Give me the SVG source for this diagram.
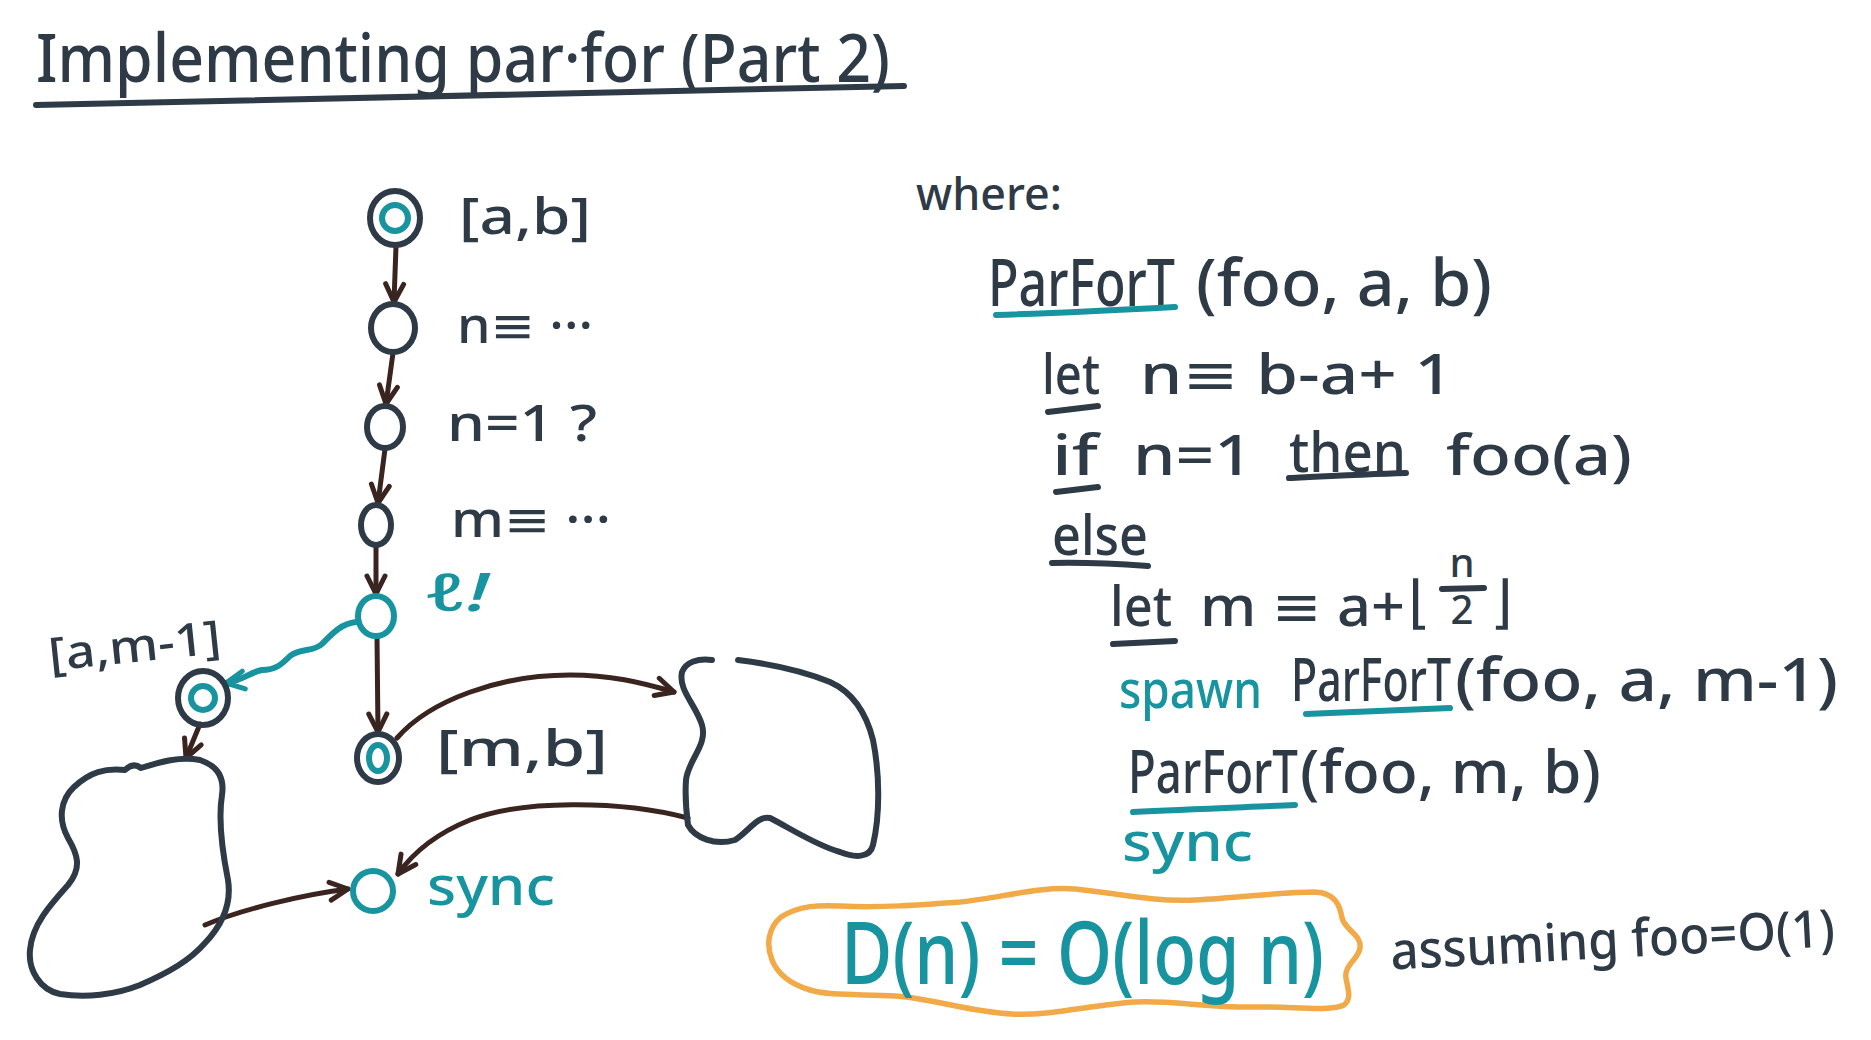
<svg xmlns="http://www.w3.org/2000/svg" width="1871" height="1040" viewBox="0 0 1871 1040">
<style>
text{font-family:"Noto Sans","Open Sans","DejaVu Sans",sans-serif;font-weight:500;}
.dk{fill:#2e3b47;}
.tl{fill:#17949f;}
.ln{fill:none;stroke-linecap:round;stroke-linejoin:round;}
.dks{stroke:#2e3b47;stroke-width:6;}
.tls{stroke:#17949f;stroke-width:6;}
.br{stroke:#3a2420;stroke-width:5;}
</style>
<defs>
<marker id="ah" viewBox="0 0 24 24" refX="21" refY="12" markerWidth="24" markerHeight="24" markerUnits="userSpaceOnUse" orient="auto">
<path d="M3,3 L21,12 L3,21" fill="none" stroke="#3a2420" stroke-width="5" stroke-linecap="round" stroke-linejoin="round"/>
</marker>
<marker id="aht" viewBox="0 0 24 24" refX="21" refY="12" markerWidth="24" markerHeight="24" markerUnits="userSpaceOnUse" orient="auto">
<path d="M3,3 L21,12 L3,21" fill="none" stroke="#17949f" stroke-width="5" stroke-linecap="round" stroke-linejoin="round"/>
</marker>
</defs>
<rect width="1871" height="1040" fill="#ffffff"/>

<g id="title">
<text class="dk" x="36" y="82" font-size="68" textLength="854" lengthAdjust="spacingAndGlyphs">Implementing par·for (Part 2)</text>
<path class="ln dks" d="M36,105 C300,100 600,92 904,86"/>
</g>

<g id="connectors">
<path class="ln br" d="M396,246 L394,302" marker-end="url(#ah)"/>
<path class="ln br" d="M393,353 L386,404" marker-end="url(#ah)"/>
<path class="ln br" d="M385,449 L378,503" marker-end="url(#ah)"/>
<path class="ln br" d="M376,546 L376,594" marker-end="url(#ah)"/>
<path class="ln br" d="M377,637 L378,732" marker-end="url(#ah)"/>
<path class="ln tls" d="M356,622 C340,624 332,634 322,644 C314,652 300,648 290,656 C282,664 276,670 262,670 C250,672 244,680 226,683" marker-end="url(#aht)"/>
<path class="ln br" d="M200,724 L186,758" marker-end="url(#ah)"/>
<path class="ln br" d="M397,738 C430,700 500,675 570,675 C610,675 640,682 674,692" marker-end="url(#ah)"/>
<path class="ln br" d="M688,818 C620,800 520,800 470,820 C440,832 415,850 398,874" marker-end="url(#ah)"/>
<path class="ln br" d="M205,925 C240,910 300,895 348,889" marker-end="url(#ah)"/>
</g>

<g id="node-ab">
<ellipse class="ln dks" cx="395" cy="218" rx="25" ry="27"/>
<circle class="ln tls" cx="395" cy="218" r="13"/>
<text class="dk" x="459" y="234" font-size="50" textLength="132" lengthAdjust="spacingAndGlyphs">[a,b]</text>
</g>
<g id="node-n">
<ellipse class="ln dks" cx="393" cy="328" rx="22" ry="24"/>
<text class="dk" x="457" y="343" font-size="50" textLength="136" lengthAdjust="spacingAndGlyphs">n≡ ···</text>
</g>
<g id="node-n1">
<ellipse class="ln dks" cx="385" cy="427" rx="18" ry="21"/>
<text class="dk" x="447" y="441" font-size="50" textLength="150" lengthAdjust="spacingAndGlyphs">n=1 ?</text>
</g>
<g id="node-m">
<ellipse class="ln dks" cx="376" cy="525" rx="15" ry="20"/>
<text class="dk" x="451" y="537" font-size="50" textLength="160" lengthAdjust="spacingAndGlyphs">m≡ ···</text>
</g>
<g id="node-spawn">
<ellipse class="ln tls" cx="376" cy="616" rx="18" ry="20"/>
<text class="tl" x="424" y="611" font-size="52" font-style="italic" textLength="65" lengthAdjust="spacingAndGlyphs">ℓ!</text>
</g>
<g id="node-am1">
<ellipse class="ln dks" cx="203" cy="698" rx="25" ry="27"/>
<circle class="ln tls" cx="203" cy="698" r="12"/>
<text class="dk" x="48" y="662" font-size="46" transform="rotate(-6 134 645)" textLength="173" lengthAdjust="spacingAndGlyphs">[a,m-1]</text>
</g>
<g id="node-mb">
<ellipse class="ln dks" cx="378" cy="758" rx="21" ry="24"/>
<ellipse class="ln tls" cx="378" cy="758" rx="9" ry="13"/>
<text class="dk" x="436" y="766" font-size="50" textLength="172" lengthAdjust="spacingAndGlyphs">[m,b]</text>
</g>
<g id="blob-left">
<path class="ln dks" d="M74,787 C90,772 105,768 125,770 Q133,762 141,768 C160,762 180,756 200,760 C215,765 225,775 222,795 C218,820 222,850 228,880 C232,905 222,925 205,943 C190,960 170,972 140,985 C115,995 85,998 60,994 C40,990 28,970 30,950 C32,925 50,905 68,885 C82,868 78,855 68,838 C58,820 60,800 74,787 Z"/>
</g>
<g id="blob-right">
<path class="ln dks" d="M738,660 C770,664 800,670 830,682 C852,692 866,712 873,740 C880,775 880,815 873,845 C870,858 855,858 840,852 C815,845 790,828 770,818 C758,815 748,832 735,840 C715,846 695,838 688,825 C686,810 685,795 686,780 C688,760 708,745 702,725 C696,705 678,690 682,672 C686,662 698,658 712,660"/>
</g>
<g id="node-sync">
<circle class="ln tls" cx="373" cy="891" r="20"/>
<text class="tl" x="427" y="905" font-size="54" textLength="128" lengthAdjust="spacingAndGlyphs">sync</text>
</g>

<g id="code">
<text class="dk" x="916" y="210" font-size="46" textLength="146" lengthAdjust="spacingAndGlyphs">where:</text>

<text class="dk" x="988" y="306" font-size="66" textLength="187" lengthAdjust="spacingAndGlyphs">ParForT</text>
<text class="dk" x="1196" y="306" font-size="66" textLength="296" lengthAdjust="spacingAndGlyphs">(foo, a, b)</text>
<path class="ln tls" d="M996,315 C1060,313 1120,310 1175,307"/>

<text class="dk" x="1042" y="394" font-size="56" textLength="58" lengthAdjust="spacingAndGlyphs">let</text>
<text class="dk" x="1140" y="394" font-size="56" textLength="313" lengthAdjust="spacingAndGlyphs">n≡ b-a+ 1</text>
<path class="ln dks" d="M1048,412 L1098,406"/>

<text class="dk" x="1052" y="475" font-size="56" textLength="46" lengthAdjust="spacingAndGlyphs">if</text>
<text class="dk" x="1133" y="475" font-size="56" textLength="120" lengthAdjust="spacingAndGlyphs">n=1</text>
<text class="dk" x="1289" y="472" font-size="56" textLength="117" lengthAdjust="spacingAndGlyphs">then</text>
<text class="dk" x="1446" y="475" font-size="56" textLength="186" lengthAdjust="spacingAndGlyphs">foo(a)</text>
<path class="ln dks" d="M1056,492 L1098,487"/>
<path class="ln dks" d="M1289,478 C1330,476 1370,474 1406,473"/>

<text class="dk" x="1052" y="555" font-size="56" textLength="96" lengthAdjust="spacingAndGlyphs">else</text>
<path class="ln dks" d="M1052,563 C1090,562 1120,564 1148,566"/>

<text class="dk" x="1110" y="626" font-size="56" textLength="62" lengthAdjust="spacingAndGlyphs">let</text>
<text class="dk" x="1200" y="626" font-size="56" textLength="205" lengthAdjust="spacingAndGlyphs">m ≡ a+</text>
<text class="dk" x="1408" y="622" font-size="58" font-family="DejaVu Sans">⌊</text>
<text class="dk" x="1462" y="577" font-size="40" text-anchor="middle">n</text>
<path class="ln dks" d="M1442,589 L1484,588"/>
<text class="dk" x="1462" y="624" font-size="40" text-anchor="middle">2</text>
<text class="dk" x="1490" y="622" font-size="58" font-family="DejaVu Sans">⌋</text>
<path class="ln dks" d="M1113,644 L1175,641"/>

<text class="tl" x="1119" y="708" font-size="52" textLength="143" lengthAdjust="spacingAndGlyphs">spawn</text>
<text class="dk" x="1291" y="701" font-size="60" textLength="160" lengthAdjust="spacingAndGlyphs">ParForT</text>
<text class="dk" x="1455" y="701" font-size="60" textLength="383" lengthAdjust="spacingAndGlyphs">(foo, a, m-1)</text>
<path class="ln tls" d="M1306,714 C1360,712 1410,710 1450,708"/>

<text class="dk" x="1128" y="793" font-size="60" textLength="170" lengthAdjust="spacingAndGlyphs">ParForT</text>
<text class="dk" x="1300" y="793" font-size="60" textLength="301" lengthAdjust="spacingAndGlyphs">(foo, m, b)</text>
<path class="ln tls" d="M1133,812 C1190,809 1250,807 1295,805"/>

<text class="tl" x="1122" y="861" font-size="54" textLength="131" lengthAdjust="spacingAndGlyphs">sync</text>
</g>

<g id="result">
<path class="ln" stroke="#f2aa48" stroke-width="5.5" d="M781,917 C800,905 820,905 840,906 C880,908 920,905 960,902 C1000,898 1040,886 1075,889 C1110,892 1150,902 1195,900 C1240,898 1280,892 1315,892 C1335,893 1340,905 1342,918 C1345,930 1362,935 1360,948 C1358,960 1344,965 1346,978 C1348,990 1352,998 1344,1005 C1330,1012 1290,1006 1255,1007 C1210,1008 1170,1000 1135,1002 C1090,1005 1050,1016 1012,1014 C970,1012 930,998 895,996 C860,994 830,996 810,990 C790,984 778,975 772,960 C766,945 768,928 781,917 Z"/>
<text class="tl" x="841" y="984" font-size="88" font-weight="400" textLength="483" lengthAdjust="spacingAndGlyphs">D(n) = O(log n)</text>
<text class="dk" x="1390" y="958" font-size="52" transform="rotate(-3 1610 940)" textLength="445" lengthAdjust="spacingAndGlyphs">assuming foo=O(1)</text>
</g>
</svg>
